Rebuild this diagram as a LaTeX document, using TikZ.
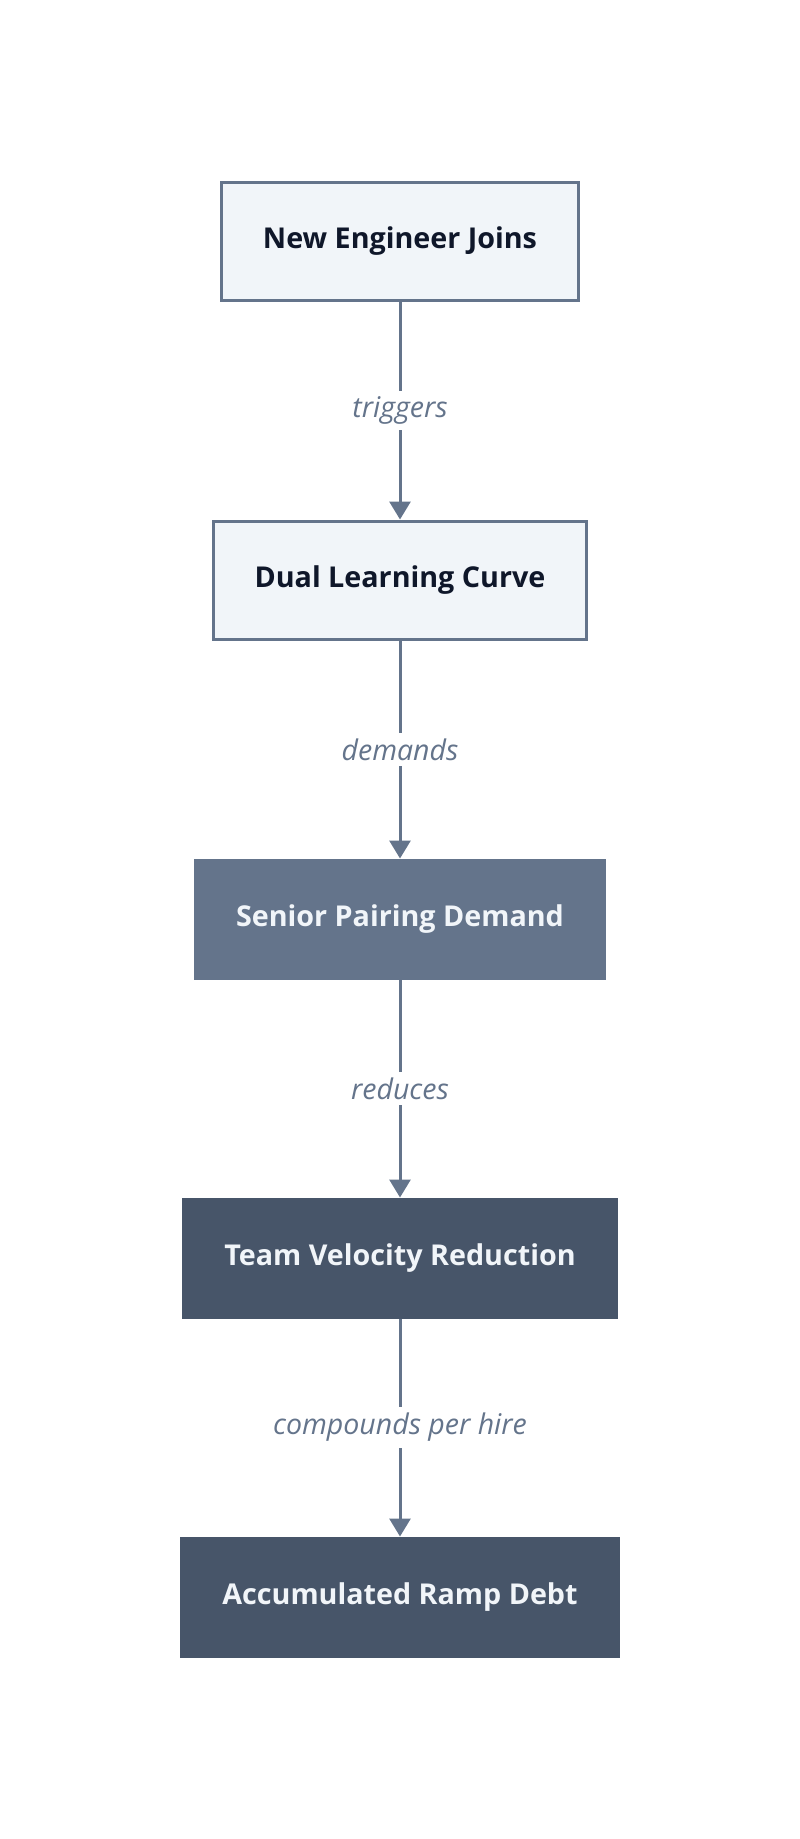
\documentclass[tikz,border=0pt]{standalone}
\usepackage{fontspec}
\setmainfont{Open Sans}
\usepackage{xcolor}
\usepackage{tikz}
\usetikzlibrary{positioning,arrows.meta}
\definecolor{edg}{HTML}{64748B}
\definecolor{lgt}{HTML}{F1F5F9}
\definecolor{ink}{HTML}{0F172A}
\definecolor{mid}{HTML}{64748B}
\definecolor{drk}{HTML}{475569}

\begin{document}
\begin{tikzpicture}[x=1pt,y=1pt,>={Triangle[length=18pt,width=21pt]},node distance=218pt,
  lgtbox/.style={draw=edg,line width=3pt,fill=lgt,text=ink,minimum height=118pt,inner xsep=41pt,font=\fontsize{28.7}{34}\selectfont\bfseries},
  midbox/.style={draw=mid,line width=1pt,fill=mid,text=lgt,minimum height=120pt,inner xsep=42pt,font=\fontsize{28.7}{34}\selectfont\bfseries},
  drkbox/.style={draw=drk,line width=1pt,fill=drk,text=lgt,minimum height=120pt,inner xsep=42pt,font=\fontsize{28.7}{34}\selectfont\bfseries},
  lbl/.style={fill=white,text=edg,inner sep=6pt,font=\fontsize{28.5}{33}\selectfont\itshape},
  link/.style={->,draw=edg,line width=3pt}]
  \useasboundingbox (0,0) rectangle (800,-1839);
  \node[lgtbox] (join) at (400,-241) {New Engineer Joins};
  \node[lgtbox,below=of join] (curve) {Dual Learning Curve};
  \node[midbox,below=of curve] (pair) {Senior Pairing Demand};
  \node[drkbox,below=of pair] (velo) {Team Velocity Reduction};
  \node[drkbox,below=of velo] (debt) {Accumulated Ramp Debt};
  \draw[link] (join)--node[lbl]{triggers}(curve);
  \draw[link] (curve)--node[lbl]{demands}(pair);
  \draw[link] (pair)--node[lbl]{reduces}(velo);
  \draw[link] (velo)--node[lbl]{compounds per hire}(debt);
\end{tikzpicture}
\end{document}
